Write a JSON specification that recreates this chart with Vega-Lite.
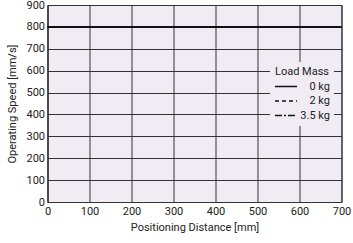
{
  "$schema": "https://vega.github.io/schema/vega-lite/v6.json",
  "width": 294,
  "height": 197,
  "autosize": {"type": "none"},
  "padding": {"left": 47.5, "top": 5, "right": 11.5, "bottom": 41},
  "background": "white",
  "config": {
    "font": "Roboto",
    "view": {"fill": "#f1ecf4", "stroke": "#333333", "strokeWidth": 1}
  },
  "data": {
    "values": [
      {"distance": 0, "speed": 800, "mass": "0 kg"},
      {"distance": 700, "speed": 800, "mass": "0 kg"},
      {"distance": 0, "speed": 800, "mass": "2 kg"},
      {"distance": 700, "speed": 800, "mass": "2 kg"},
      {"distance": 0, "speed": 800, "mass": "3.5 kg"},
      {"distance": 700, "speed": 800, "mass": "3.5 kg"}
    ]
  },
  "mark": {"type": "line", "color": "#111111", "strokeWidth": 2},
  "encoding": {
    "x": {
      "field": "distance", "type": "quantitative",
      "scale": {"domain": [0, 700], "nice": false},
      "axis": {"values": [0,100,200,300,400,500,600,700], "title": "Positioning Distance [mm]", "titleFontWeight": "normal", "titleFontSize": 11, "titleColor": "#222", "titlePadding": 5, "labelFontSize": 11, "labelColor": "#222", "labelPadding": 3, "ticks": false, "grid": true, "gridColor": "#333333", "gridOpacity": 1, "domainColor": "#333333", "labelFlush": false}
    },
    "y": {
      "field": "speed", "type": "quantitative",
      "scale": {"domain": [0, 900], "nice": false},
      "axis": {"values": [0,100,200,300,400,500,600,700,800,900], "title": "Operating Speed [mm/s]", "titleFontWeight": "normal", "titleFontSize": 11, "titleColor": "#222", "titlePadding": 8, "labelFontSize": 11, "labelColor": "#222", "labelPadding": 3, "ticks": false, "grid": true, "gridColor": "#333333", "gridOpacity": 1, "domainColor": "#333333", "labelFlush": false}
    },
    "strokeDash": {
      "field": "mass", "type": "nominal",
      "scale": {"domain": ["0 kg", "2 kg", "3.5 kg"], "range": [[1, 0], [4, 3], [7, 2, 2, 2]]},
      "legend": {
        "title": "Load Mass",
        "orient": "none",
        "legendX": 222.5,
        "legendY": 57,
        "fillColor": "#f1ecf4",
        "padding": 4,
        "titleFontWeight": "normal",
        "titleFontSize": 11,
        "titleColor": "#222",
        "titleAnchor": "middle",
        "titlePadding": 3,
        "labelFontSize": 11,
        "labelColor": "#222",
        "labelAlign": "right",
        "labelOffset": 32,
        "symbolType": "stroke",
        "symbolStrokeColor": "#111",
        "symbolStrokeWidth": 1.5,
        "symbolSize": 484,
        "clipHeight": 13,
        "rowPadding": 1.5
      }
    }
  }
}
